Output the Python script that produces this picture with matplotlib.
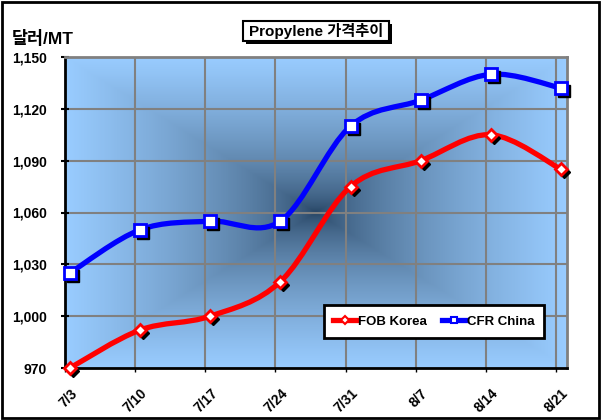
import numpy as np
import matplotlib
matplotlib.use("Agg")
import matplotlib.pyplot as plt
from matplotlib.path import Path
from matplotlib.patches import PathPatch, Rectangle
from matplotlib.lines import Line2D
from matplotlib.transforms import offset_copy, ScaledTranslation
from matplotlib.colors import LinearSegmentedColormap

plt.rcParams["font.family"] = ["Liberation Sans", "Noto Sans CJK KR", "DejaVu Sans"]

dates = ["7/3", "7/10", "7/17", "7/24", "7/31", "8/7", "8/14", "8/21"]
fob_korea = [970, 992, 1000, 1020, 1075, 1090, 1105, 1085]
cfr_china = [1025, 1050, 1055, 1055, 1110, 1125, 1140, 1132]
y_ticks = [970, 1000, 1030, 1060, 1090, 1120, 1150]


def smooth_path(xs, ys):
    # Excel-style smoothed line: cubic bezier with catmull-rom control points
    pts = np.column_stack([xs, ys]).astype(float)
    n = len(pts)
    verts = [pts[0]]
    codes = [Path.MOVETO]
    for i in range(n - 1):
        p0 = pts[i - 1] if i > 0 else pts[i]
        p1, p2 = pts[i], pts[i + 1]
        p3 = pts[i + 2] if i + 2 < n else pts[i + 1]
        c1 = p1 + (p2 - p0) / 6.0
        c2 = p2 - (p3 - p1) / 6.0
        verts += [c1, c2, p2]
        codes += [Path.CURVE4] * 3
    return Path(verts, codes)


fig = plt.figure(figsize=(6.01, 4.20), dpi=100)
ax = fig.add_axes([65 / 601, 1 - 368 / 420, 502 / 601, 311 / 420])

# rectangular "from center" gradient background
gx = np.linspace(-1, 1, 400)
gy = np.linspace(-1, 1, 300)
X, Y = np.meshgrid(gx, gy)
T = np.maximum(np.abs(X), np.abs(Y))
cmap = LinearSegmentedColormap.from_list("bg", ["#23405f", "#5f86ad", "#99ccff"])
ax.imshow(T ** 0.6, cmap=cmap, extent=[0, 1, 0, 1], transform=ax.transAxes,
          aspect="auto", zorder=0, vmin=0, vmax=1)

n = len(dates)
xs = np.arange(n) + 0.07
ax.set_xlim(0, 7.155)
ax.set_ylim(y_ticks[0], y_ticks[-1])

for gxv in range(1, n):
    ax.axvline(gxv, color="#808080", lw=1.5, zorder=1)
for yv in y_ticks[1:-1]:
    ax.axhline(yv, color="#808080", lw=1.5, zorder=1)

shadow = offset_copy(ax.transData, fig=fig, x=3, y=-3, units="dots")

series = [
    (fob_korea, "#ff0000", "D", 6.5, "FOB Korea"),
    (cfr_china, "#0000ff", "s", 8, "CFR China"),
]
for vals, color, mk, ms, name in series:
    ax.add_patch(PathPatch(smooth_path(xs, vals), fill=False, edgecolor=color,
                           lw=3.8, zorder=3, capstyle="round"))
    ax.plot(xs, vals, ls="none", marker=mk, ms=ms, mfc="black", mec="black",
            transform=shadow, zorder=4, clip_on=False)
    ax.plot(xs, vals, ls="none", marker=mk, ms=ms, mfc="white", mec=color,
            mew=2, zorder=5, clip_on=False)

ax.set_yticks(y_ticks)
ax.set_yticklabels([f"{v:,}" for v in y_ticks], fontsize=10, fontweight="bold")
ax.set_xticks(range(n))
ax.set_xticklabels(dates, rotation=45, ha="right", va="top",
                   rotation_mode="anchor", fontsize=10, fontweight="bold")
ax.tick_params(axis="y", direction="inout", length=6, width=1.5, pad=10)
ax.tick_params(axis="x", direction="out", length=3, width=1, pad=10)
shift = ScaledTranslation(5 / 100, 0, fig.dpi_scale_trans)
for lbl in ax.get_xticklabels():
    lbl.set_transform(lbl.get_transform() + shift)
for s in ["left", "bottom"]:
    ax.spines[s].set_linewidth(2)
    ax.spines[s].set_color("black")
for s in ["top", "right"]:
    ax.spines[s].set_linewidth(2)
    ax.spines[s].set_color("#808080")

handles = [Line2D([], [], color=c, lw=3.8, marker=mk, ms=4.5, mfc="white", mec=c, mew=1.5)
           for _, c, mk, _, _ in series]
leg = ax.legend(handles, [s[4] for s in series], loc="center",
                bbox_to_anchor=((434 - 65) / 502, (368 - 321.5) / 311),
                ncol=2, frameon=True, fancybox=False,
                handlelength=1.8, handletextpad=0.1, columnspacing=1.1,
                borderpad=0.75, borderaxespad=0, prop={"size": 9.5, "weight": "bold"})
leg.get_frame().set_edgecolor("black")
leg.get_frame().set_linewidth(2)
leg.get_frame().set_alpha(1)
leg.set_zorder(10)

fig.text(12 / 601, 1 - 39 / 420, "달러/MT", fontsize=12.5, fontweight="bold",
         va="center", ha="left")

# title box with shadow
fig.patches.append(Rectangle((246 / 601, 1 - 44 / 420), 146 / 601, 20 / 420,
                             transform=fig.transFigure, facecolor="black",
                             edgecolor="none", zorder=1))
fig.patches.append(Rectangle((243 / 601, 1 - 41 / 420), 146 / 601, 20 / 420,
                             transform=fig.transFigure, facecolor="white",
                             edgecolor="black", lw=1.5, zorder=2))
fig.text(316 / 601, 1 - 31 / 420, "Propylene 가격추이", fontsize=11,
         fontweight="bold", ha="center", va="center", zorder=3)

fig.patches.append(Rectangle((0.003, 0.004), 0.994, 0.992, transform=fig.transFigure,
                             fill=False, edgecolor="black", lw=2))

fig.savefig("out.png", dpi=100)
